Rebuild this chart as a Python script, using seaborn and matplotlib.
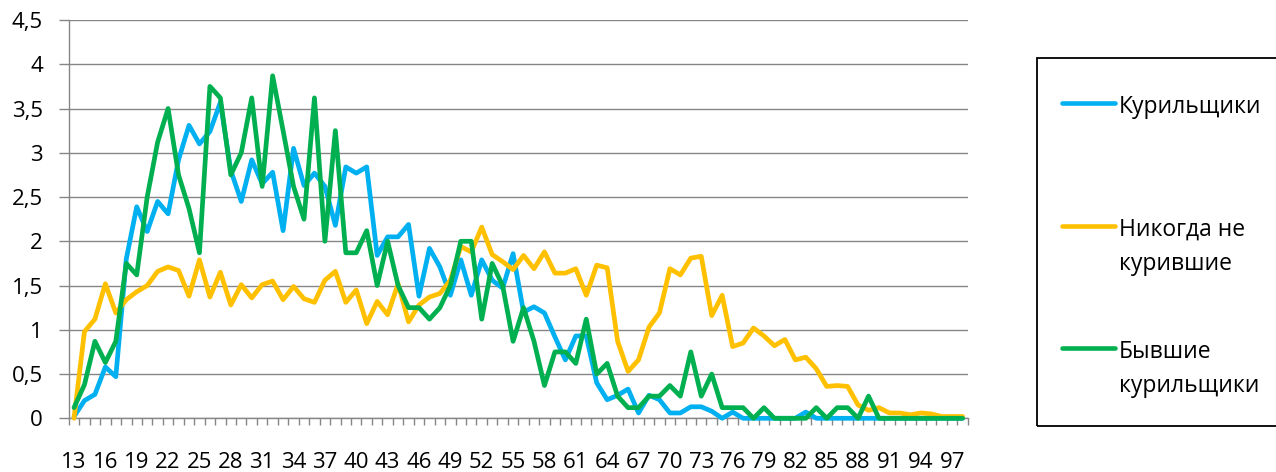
import numpy as np
import pandas as pd
import matplotlib
matplotlib.use("Agg")
import matplotlib.pyplot as plt
import seaborn as sns
from matplotlib.lines import Line2D
from matplotlib.patches import Rectangle
from matplotlib.ticker import FixedLocator, FuncFormatter

# Age categories 13..98 and the three curves
ages = list(range(13, 99))

smokers = [
    0.02, 0.20, 0.27, 0.58, 0.47, 1.80, 2.39, 2.11, 2.45, 2.31,
    2.92, 3.31, 3.10, 3.24, 3.57, 2.80, 2.45, 2.92, 2.65, 2.78,
    2.12, 3.05, 2.63, 2.77, 2.62, 2.18, 2.84, 2.77, 2.84, 1.84,
    2.05, 2.05, 2.19, 1.38, 1.92, 1.71, 1.39, 1.79, 1.39, 1.79,
    1.56, 1.47, 1.86, 1.20, 1.26, 1.19, 0.92, 0.66, 0.93, 0.93,
    0.40, 0.21, 0.26, 0.33, 0.06, 0.26, 0.21, 0.06, 0.06, 0.13,
    0.13, 0.08, 0.00, 0.07, 0.00, 0.00, 0.00, 0.00, 0.00, 0.00,
    0.07, 0.00, 0.00, 0.00, 0.00, 0.00, 0.00, 0.00, 0.00, 0.00,
    0.00, 0.00, 0.00, 0.00, 0.00, 0.00,
]

never = [
    0.00, 0.98, 1.12, 1.52, 1.19, 1.34, 1.43, 1.50, 1.66, 1.71,
    1.67, 1.38, 1.79, 1.37, 1.65, 1.28, 1.51, 1.36, 1.51, 1.55,
    1.34, 1.49, 1.35, 1.31, 1.56, 1.66, 1.31, 1.45, 1.07, 1.32,
    1.17, 1.52, 1.09, 1.28, 1.37, 1.41, 1.56, 1.94, 1.88, 2.16,
    1.85, 1.77, 1.68, 1.84, 1.69, 1.88, 1.64, 1.64, 1.69, 1.39,
    1.73, 1.70, 0.87, 0.53, 0.66, 1.03, 1.19, 1.69, 1.62, 1.81,
    1.83, 1.16, 1.39, 0.81, 0.85, 1.02, 0.93, 0.82, 0.89, 0.66,
    0.69, 0.56, 0.36, 0.37, 0.36, 0.15, 0.09, 0.12, 0.06, 0.06,
    0.04, 0.06, 0.05, 0.02, 0.02, 0.02,
]

former = [
    0.12, 0.38, 0.87, 0.63, 0.87, 1.75, 1.62, 2.50, 3.12, 3.50,
    2.75, 2.37, 1.87, 3.75, 3.62, 2.75, 3.00, 3.62, 2.62, 3.87,
    3.25, 2.62, 2.25, 3.62, 2.00, 3.25, 1.87, 1.87, 2.12, 1.50,
    2.00, 1.50, 1.25, 1.25, 1.12, 1.25, 1.50, 2.00, 2.00, 1.12,
    1.75, 1.50, 0.87, 1.25, 0.87, 0.37, 0.75, 0.75, 0.62, 1.12,
    0.50, 0.62, 0.25, 0.12, 0.12, 0.25, 0.25, 0.37, 0.25, 0.75,
    0.25, 0.50, 0.12, 0.12, 0.12, 0.00, 0.12, 0.00, 0.00, 0.00,
    0.00, 0.12, 0.00, 0.12, 0.12, 0.00, 0.25, 0.00, 0.00, 0.00,
    0.00, 0.00, 0.00, 0.00, 0.00, 0.00,
]

series_names = ["Курильщики", "Никогда не\nкурившие", "Бывшие\nкурильщики"]
series_colors = ["#00B0F0", "#FFC000", "#00B050"]
y_ticks = [0, 0.5, 1, 1.5, 2, 2.5, 3, 3.5, 4, 4.5]
x_tick_labels = list(range(13, 98, 3))

assert len(smokers) == len(never) == len(former) == len(ages)

GRID = "#868686"

sns.set_theme(style="white")
plt.rcParams["font.family"] = ["Open Sans", "DejaVu Sans"]

df = pd.DataFrame({
    "age": ages * 3,
    "value": smokers + never + former,
    "group": [n for n in series_names for _ in ages],
})

fig = plt.figure(figsize=(12.76, 4.72), dpi=100)
ax = fig.add_axes([0.0539, 0.1138, 0.7046, 0.8438])

sns.lineplot(
    data=df, x="age", y="value", hue="group",
    hue_order=series_names, palette=series_colors,
    linewidth=3.4, legend=False, ax=ax, clip_on=False, zorder=3,
)

ax.set_xlim(12.5, 98.5)
ax.set_ylim(0, 4.5)
ax.set_xlabel("")
ax.set_ylabel("")

# y axis: gridlines + comma decimals
ax.yaxis.set_major_locator(FixedLocator(y_ticks))
ax.yaxis.set_major_formatter(FuncFormatter(lambda v, _: f"{v:g}".replace(".", ",")))
ax.yaxis.grid(True, color=GRID, linewidth=1.0)
ax.xaxis.grid(False)
ax.tick_params(axis="y", length=7.2, width=1.0, color=GRID, pad=11.5,
               labelsize=16, labelcolor="black", left=True)

# x axis: labels every 3rd age, small ticks between categories
ax.xaxis.set_major_locator(FixedLocator(x_tick_labels))
ax.xaxis.set_minor_locator(FixedLocator(np.arange(12.5, 99, 1)))
ax.tick_params(axis="x", which="major", length=0, pad=24, labelsize=16, labelcolor="black")
ax.tick_params(axis="x", which="minor", length=5, width=1.0, color=GRID, bottom=True)

for side in ["top", "right"]:
    ax.spines[side].set_visible(False)
for side in ["left", "bottom"]:
    ax.spines[side].set_color(GRID)
    ax.spines[side].set_linewidth(1.0)

# legend box on the right (runs past the figure edge like the original)
W, H = 1276, 472
fig.add_artist(Rectangle((1037 / W, 1 - 426 / H), (1300 - 1037) / W, (426 - 58.3) / H,
                         transform=fig.transFigure, fill=False, edgecolor="black",
                         linewidth=1.3, clip_on=False))
legend_y = [103.3, 226, 348.3]
for name, color, y in zip(series_names, series_colors, legend_y):
    fy = 1 - y / H
    fig.add_artist(Line2D([1062 / W, 1115 / W], [fy, fy], transform=fig.transFigure,
                          color=color, linewidth=3.3, solid_capstyle="round"))
    # top of the text box sits ~8.5 px above the swatch so the first line centres on it
    fig.text(1119 / W, 1 - (y - 8.5) / H, name, fontsize=16.5, va="top", ha="left",
             linespacing=1.56, color="black")

fig.savefig("out.png", dpi=100)
